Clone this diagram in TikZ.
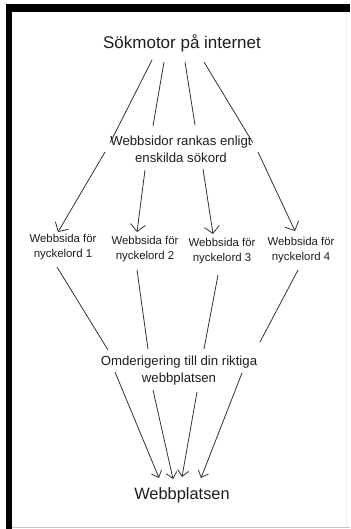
\documentclass[tikz,border=0pt]{standalone}
\usepackage{fontspec}
\setmainfont{Liberation Sans}
\usetikzlibrary{arrows.meta,calc}
\definecolor{txt}{HTML}{1E1E1E}
\definecolor{ln}{HTML}{333333}
\tikzset{
  lbl/.style={inner sep=0pt, align=center, text=txt},
  conn/.style={draw=ln, line width=0.8pt},
  bigarrow/.style={conn, -{Straight Barb[length=7pt,width=15pt,line width=0.8pt]}},
  smallarrow/.style={conn, -{Straight Barb[length=6pt,width=11pt,line width=0.8pt]}},
}
\begin{document}
\begin{tikzpicture}[x=1pt,y=-1pt]
\useasboundingbox (0,0) rectangle (350,529);
\fill[white] (0,0) rectangle (350,529);
% frame
\fill[black] (6,4) rectangle (350,12);
\fill[black] (6,4) rectangle (12,529);
\draw[gray!45, line width=1pt] (12,527.5) -- (350,527.5);
\draw[gray!12, line width=0.8pt] (346,12) -- (346,527);

% nodes
\node[lbl, font=\fontsize{17}{20}\selectfont] (t) at (182,43) {Sökmotor på internet};
\node[lbl, font=\fontsize{13.2}{17}\selectfont] (m) at (181,149) {Webbsidor rankas enligt\\enskilda sökord};
\node[lbl, font=\fontsize{11.4}{15}\selectfont] (b1) at (63,247) {Webbsida för\\nyckelord 1};
\node[lbl, font=\fontsize{11.4}{15}\selectfont] (b2) at (145,249) {Webbsida för\\nyckelord 2};
\node[lbl, font=\fontsize{11.4}{15}\selectfont] (b3) at (222,251) {Webbsida för\\nyckelord 3};
\node[lbl, font=\fontsize{11.4}{15}\selectfont] (b4) at (301,250) {Webbsida för\\nyckelord 4};
\node[lbl, font=\fontsize{13.2}{17}\selectfont] (o) at (179,371) {Omderigering till din riktiga\\webbplatsen};
\node[lbl, font=\fontsize{16.4}{20}\selectfont] (w) at (182,495) {Webbplatsen};

% title -> middle text
\draw[conn] ($(t)+(-30,17)$) -- ($(m)+(-71,-6)$);
\draw[conn] ($(t)+(-18,19)$) -- ($(m)+(-28,-23)$);
\draw[conn] ($(t)+(3,19)$) -- ($(m)+(14,-24)$);
\draw[conn] ($(t)+(22,19)$) -- ($(m)+(72,-6)$);
% middle text -> boxes
\draw[bigarrow] ($(m)+(-76,3)$) -- ($(b1)+(-5,-15)$);
\draw[bigarrow] ($(m)+(-36,21)$) -- ($(b2)+(-8,-17)$);
\draw[bigarrow] ($(m)+(22,20)$) -- ($(b3)+(-9,-17)$);
\draw[bigarrow] ($(m)+(77,3)$) -- ($(b4)+(-6,-19)$);
% boxes -> lower text
\draw[conn] ($(b1)+(-6,20)$) -- ($(o)+(-71,-21)$);
\draw[conn] ($(b2)+(-8,21)$) -- ($(o)+(-31,-22)$);
\draw[conn] ($(b3)+(-4,24)$) -- ($(o)+(25,-22)$);
\draw[conn] ($(b4)+(-3,20)$) -- ($(o)+(81,-29)$);
% lower text -> Webbplatsen
\draw[smallarrow] ($(o)+(-64,1)$) -- ($(w)+(-23,-17)$);
\draw[smallarrow] ($(o)+(-26,19)$) -- ($(w)+(-9,-16)$);
\draw[smallarrow] ($(o)+(18,21)$) -- ($(w)+(0,-18)$);
\draw[smallarrow] ($(o)+(63,2)$) -- ($(w)+(19,-17)$);
\end{tikzpicture}
\end{document}
